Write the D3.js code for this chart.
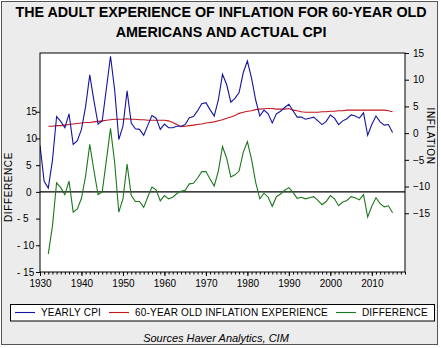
<!DOCTYPE html>
<html>
<head>
<meta charset="utf-8">
<script src="https://cdn.jsdelivr.net/npm/d3@7"></script>
<style>
  body { margin: 0; background: #fff; }
  svg text { font-family: "Liberation Sans", Arial, sans-serif; fill: #000; }
</style>
</head>
<body>
<div id="chart"></div>
<script>
// Yearly CPI inflation (%), one value per year from 1930
const cpiStart = 1930;
const cpi = [
  -2.3, -9.0, -10.3, -5.1, 3.1, 2.2, 1.0, 3.6, -2.1, -1.4,   // 1930s
  0.7, 5.0, 10.9, 6.1, 1.7, 2.3, 8.3, 14.4, 8.1, -1.2,       // 1940s
  1.3, 7.9, 1.9, 0.8, 0.7, -0.4, 1.5, 3.3, 2.8, 0.7,         // 1950s
  1.7, 1.0, 1.0, 1.3, 1.3, 1.6, 2.9, 3.1, 4.2, 5.5,          // 1960s
  5.7, 4.4, 3.2, 6.2, 11.0, 9.1, 5.8, 6.5, 7.6, 11.3,        // 1970s
  13.5, 10.3, 6.2, 3.2, 4.3, 3.6, 1.9, 3.6, 4.1, 4.8,        // 1980s
  5.4, 4.2, 3.0, 3.0, 2.6, 2.8, 3.0, 2.3, 1.6, 2.2,          // 1990s
  3.4, 2.8, 1.6, 2.3, 2.7, 3.4, 3.2, 2.8, 3.8, -0.4,         // 2000s
  1.6, 3.2, 2.1, 1.5, 1.6, 0.1                               // 2010-2015
];

// Average inflation a 60-year old lived through as an adult (%), from 1932
const expStart = 1932;
const experience = [
  1.3, 1.3, 1.4, 1.4, 1.5, 1.6, 1.7, 1.8,                    // 1932-39
  1.9, 2.0, 2.0, 2.1, 2.2, 2.3, 2.4, 2.5, 2.6, 2.6,          // 1940s
  2.6, 2.7, 2.6, 2.6, 2.5, 2.5, 2.4, 2.4, 2.4, 2.4,          // 1950s
  2.4, 2.3, 2.0, 1.6, 1.2, 1.3, 1.4, 1.5, 1.6, 1.7,          // 1960s
  1.9, 2.0, 2.1, 2.3, 2.5, 2.8, 3.0, 3.3, 3.7, 3.9,          // 1970s
  4.1, 4.2, 4.4, 4.5, 4.55, 4.6, 4.6, 4.5, 4.5, 4.5,         // 1980s
  4.6, 4.3, 4.2, 4.0, 3.9, 3.9, 3.9, 3.9, 4.0, 4.0,          // 1990s
  4.1, 4.1, 4.2, 4.2, 4.3, 4.3, 4.3, 4.3, 4.3, 4.3,          // 2000s
  4.3, 4.3, 4.3, 4.3, 4.2, 4.0                               // 2010-2015
];

const xTicks = [1930, 1940, 1950, 1960, 1970, 1980, 1990, 2000, 2010];
const valueTicks = [-15, -10, -5, 0, 5, 10, 15];
const seriesNames = ["YEARLY CPI", "60-YEAR OLD INFLATION EXPERIENCE", "DIFFERENCE"];
const seriesColors = ["#1414a0", "#c4161c", "#1d771d"];
const titleLines = ["THE ADULT EXPERIENCE OF INFLATION FOR 60-YEAR OLD", "AMERICANS AND ACTUAL CPI"];
const sourceText = "Sources  Haver Analytics, CIM";

const W = 441, H = 348;
const plot = { left: 40, right: 405, top: 53, bottom: 272 };

const cpiData = cpi.map((v, i) => ({ year: cpiStart + i, value: v }));
const expData = experience.map((v, i) => ({ year: expStart + i, value: v }));
// difference = yearly CPI minus the 60-year old's experience
const diffData = experience.map((v, i) => ({ year: expStart + i, value: cpi[expStart - cpiStart + i] - v }));

const svg = d3.select("#chart").append("svg")
    .attr("width", W)
    .attr("height", H);

// panel background and outer frame
svg.append("rect")
    .attr("x", 1.5).attr("y", 1.5)
    .attr("width", 436).attr("height", 343)
    .attr("fill", "#ececec")
    .attr("stroke", "#555");

// title
svg.selectAll("text.title")
    .data(titleLines)
    .enter().append("text")
    .attr("class", "title")
    .attr("x", 221)
    .attr("y", (d, i) => 16.5 + i * 20.5)
    .attr("text-anchor", "middle")
    .style("font-size", "14.3px")
    .style("font-weight", "bold")
    .text(d => d);

// scales
const x = d3.scaleLinear().domain([1930, 2018]).range([plot.left, plot.right]);
const yLeft = d3.scaleLinear().domain([-15, 26]).range([plot.bottom, plot.top]);
const yRight = d3.scaleLinear().domain([-26, 15]).range([plot.bottom, plot.top]);

// plot area
svg.append("rect")
    .attr("x", plot.left).attr("y", plot.top)
    .attr("width", plot.right - plot.left)
    .attr("height", plot.bottom - plot.top)
    .attr("fill", "#fff");

// zero line of the difference axis
svg.append("line")
    .attr("x1", plot.left).attr("x2", plot.right)
    .attr("y1", yLeft(0)).attr("y2", yLeft(0))
    .attr("stroke", "#000")
    .attr("stroke-width", 1.2);

const clip = svg.append("clipPath").attr("id", "plot-clip")
    .append("rect")
    .attr("x", plot.left).attr("y", plot.top)
    .attr("width", plot.right - plot.left)
    .attr("height", plot.bottom - plot.top);

const lineRight = d3.line().x(d => x(d.year)).y(d => yRight(d.value));
const lineLeft = d3.line().x(d => x(d.year)).y(d => yLeft(d.value));

const lines = svg.append("g").attr("clip-path", "url(#plot-clip)");
lines.append("path").datum(diffData)
    .attr("d", lineLeft)
    .attr("fill", "none").attr("stroke", seriesColors[2]).attr("stroke-width", 1.1);
lines.append("path").datum(expData)
    .attr("d", lineRight)
    .attr("fill", "none").attr("stroke", seriesColors[1]).attr("stroke-width", 1.1);
lines.append("path").datum(cpiData)
    .attr("d", lineRight)
    .attr("fill", "none").attr("stroke", seriesColors[0]).attr("stroke-width", 1.1);

// frame
svg.append("rect")
    .attr("x", plot.left).attr("y", plot.top)
    .attr("width", plot.right - plot.left)
    .attr("height", plot.bottom - plot.top)
    .attr("fill", "none")
    .attr("stroke", "#000");

function styleAxis(g) {
    g.select(".domain").remove();
    g.selectAll(".tick line").attr("stroke", "#000");
    g.selectAll("text").style("font-size", "10px").attr("fill", "#000");
}

// left axis: numbers left-aligned, minus sign sticking out
const leftAxis = svg.append("g")
    .attr("transform", `translate(${plot.left},0)`)
    .call(d3.axisLeft(yLeft).tickValues(valueTicks).tickSize(4).tickFormat(d => d < 0 ? "- " + Math.abs(d) : d))
    .call(styleAxis);
leftAxis.selectAll("text")
    .attr("text-anchor", "start")
    .attr("x", d => d < 0 ? -23 : -14);

// right axis
svg.append("g")
    .attr("transform", `translate(${plot.right},0)`)
    .call(d3.axisRight(yRight).tickValues(valueTicks).tickSize(4).tickPadding(4))
    .call(styleAxis);

// bottom axis: yearly minor ticks plus labelled decades
svg.append("g")
    .attr("transform", `translate(0,${plot.bottom})`)
    .call(d3.axisBottom(x).tickValues(d3.range(1930, 2019)).tickSize(2.5).tickFormat(""))
    .call(styleAxis);
svg.append("g")
    .attr("transform", `translate(0,${plot.bottom})`)
    .call(d3.axisBottom(x).tickValues(xTicks).tickSize(4).tickPadding(4).tickFormat(d3.format("d")))
    .call(styleAxis);

// axis titles
svg.append("text")
    .attr("transform", `translate(12,${187}) rotate(-90)`)
    .attr("text-anchor", "middle")
    .style("font-size", "10px")
    .style("letter-spacing", "0.6px")
    .text("DIFFERENCE");
svg.append("text")
    .attr("transform", `translate(427,${136}) rotate(90)`)
    .attr("text-anchor", "middle")
    .style("font-size", "10px")
    .style("letter-spacing", "0.6px")
    .text("INFLATION");

// legend
const legend = svg.append("g");
legend.append("rect")
    .attr("x", 10.5).attr("y", 304.5)
    .attr("width", 424).attr("height", 16.5)
    .attr("fill", "#fff")
    .attr("stroke", "#000");

let lx = 15;
seriesNames.forEach((name, i) => {
    legend.append("line")
        .attr("x1", lx).attr("x2", lx + 20)
        .attr("y1", 312.5).attr("y2", 312.5)
        .attr("stroke", seriesColors[i])
        .attr("stroke-width", 1.1);
    const t = legend.append("text")
        .attr("x", lx + 26)
        .attr("y", 316.3)
        .style("font-size", "10px")
        .style("letter-spacing", "0.2px")
        .text(name);
    lx += 26 + t.node().getComputedTextLength() + 8;
});

// source line
svg.append("text")
    .attr("x", 216)
    .attr("y", 341.5)
    .attr("text-anchor", "middle")
    .style("font-size", "11px")
    .style("font-style", "italic")
    .text(sourceText);
</script>
</body>
</html>
